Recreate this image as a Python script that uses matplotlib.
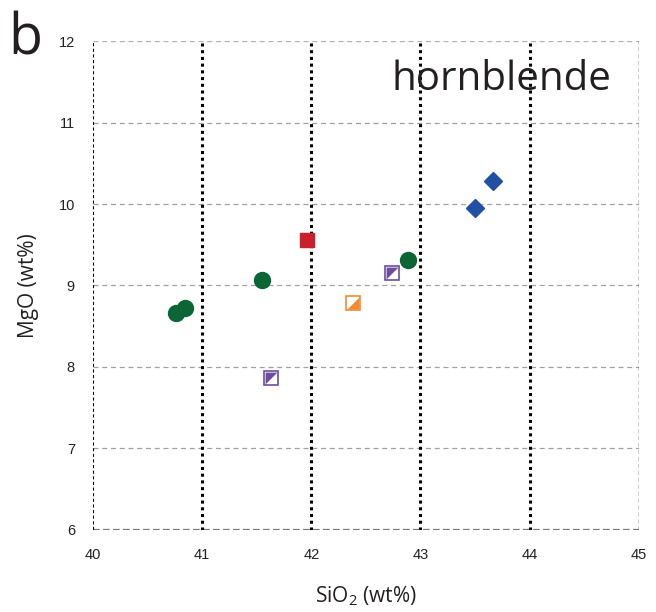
import matplotlib
matplotlib.use('Agg')
import matplotlib.pyplot as plt

# hornblende compositions (wt%)
green_sio2 = [40.76, 40.84, 41.55, 42.89]
green_mgo = [8.66, 8.72, 9.07, 9.31]
red_sio2 = [41.96]
red_mgo = [9.56]
purple_sio2 = [41.63, 42.74]
purple_mgo = [7.87, 9.15]
orange_sio2 = [42.38]
orange_mgo = [8.79]
blue_sio2 = [43.50, 43.66]
blue_mgo = [9.95, 10.28]

x_ticks = [40, 41, 42, 43, 44, 45]
y_ticks = [6, 7, 8, 9, 10, 11, 12]

plt.rcParams['font.family'] = ['Open Sans', 'DejaVu Sans']
plt.rcParams['mathtext.fontset'] = 'custom'
plt.rcParams['mathtext.rm'] = 'Open Sans'
plt.rcParams['mathtext.it'] = 'Open Sans'

fig = plt.figure(figsize=(6.56, 6.12), dpi=100)
ax = fig.add_axes([0.1418, 0.134, 0.832, 0.799])
ax.set_xlim(40, 45)
ax.set_ylim(6, 12)
for s in ax.spines.values():
    s.set_visible(False)

# grid
for y in y_ticks[1:-1]:
    ax.axhline(y, color='#a0a0a0', lw=0.9, ls=(0, (4, 3)), zorder=1)
ax.axhline(12, color='#b0b0b0', lw=0.9, ls=(0, (4, 3)), zorder=1)
ax.axhline(6, color='#777777', lw=1.6, ls=(0, (3, 1.5)), zorder=1)
for x in x_ticks[1:-1]:
    ax.axvline(x, color='black', lw=2.2, ls=(0, (1, 1.2)), zorder=1)
ax.axvline(40, color='black', lw=1.5, ls=(0, (1.5, 1.2)), zorder=1)
ax.axvline(45, color='black', lw=1.0, ls=(0, (3, 2)), zorder=1)

ax.set_xticks(x_ticks)
ax.set_yticks(y_ticks)
ax.tick_params(length=0, labelsize=10.5, labelcolor='#222222')
ax.tick_params(axis='x', pad=13)
ax.tick_params(axis='y', pad=13)
for lab in ax.get_xticklabels() + ax.get_yticklabels():
    lab.set_family('Liberation Sans')

ul_tri = [(-1, -1), (-1, 1), (1, 1), (-1, -1)]
lr_tri = [(1, 1), (1, -1), (-1, -1), (1, 1)]

ax.plot(green_sio2, green_mgo, 'o', ms=11.5, color='#0b6535', zorder=3)
ax.plot(red_sio2, red_mgo, 's', ms=9.5, color='#c9202c', zorder=3)
ax.plot(blue_sio2, blue_mgo, 'D', ms=9.5, color='#2150a2', zorder=3)
# half-filled squares
ax.plot(purple_sio2, purple_mgo, 's', ms=9.5, mfc='white', mec='#6d4e9e', mew=1.2, zorder=3)
ax.plot(purple_sio2, purple_mgo, marker=ul_tri, ls='none', ms=8.5, color='#6d4e9e', mew=0, zorder=4)
ax.plot(orange_sio2, orange_mgo, 's', ms=9.5, mfc='white', mec='#f28b30', mew=1.2, zorder=3)
ax.plot(orange_sio2, orange_mgo, marker=lr_tri, ls='none', ms=8.5, color='#f28b30', mew=0, zorder=4)

ax.set_xlabel('SiO$_2$ (wt%)', fontsize=15, color='#231f20', labelpad=16)
ax.set_ylabel('MgO (wt%)', fontsize=15, color='#231f20', labelpad=14)

ax.text(0.95, 0.92, 'hornblende', transform=ax.transAxes, ha='right', va='center',
        fontsize=29, color='#231f20')
fig.text(0.012, 0.935, 'b', fontsize=40, color='#231f20', ha='left', va='center')

fig.savefig('out.png', dpi=100)
